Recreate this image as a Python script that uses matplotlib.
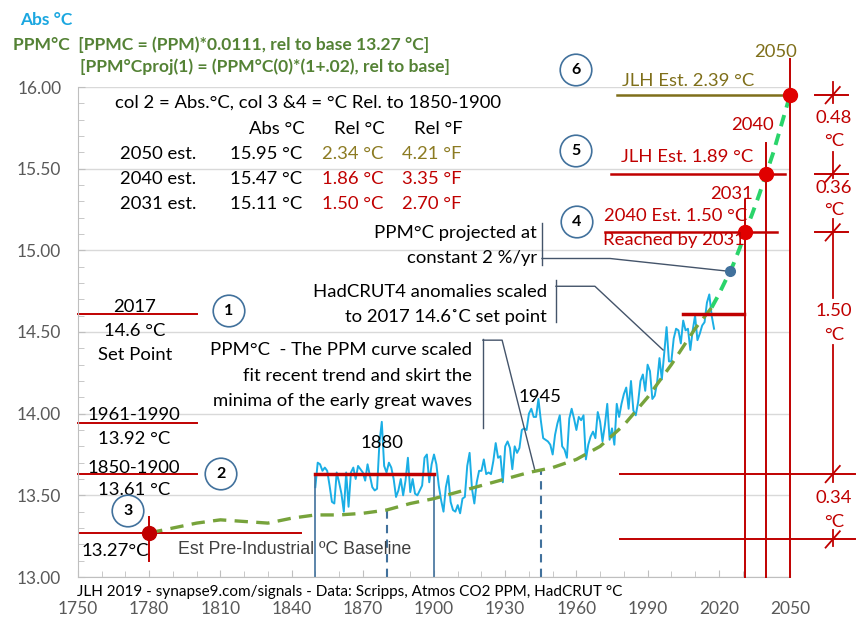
import numpy as np
import matplotlib.pyplot as plt

# PPM based curve (abs deg C)
ppm_years = [1780, 1790, 1800, 1810, 1820, 1830, 1840, 1850, 1860, 1870, 1880, 1890,
             1900, 1910, 1920, 1930, 1940, 1950, 1960, 1970, 1980, 1990, 2000, 2010, 2017]
ppm_temp = [13.27, 13.30, 13.33, 13.35, 13.34, 13.33, 13.36, 13.38, 13.38, 13.39, 13.41, 13.45,
            13.48, 13.52, 13.56, 13.60, 13.64, 13.67, 13.72, 13.80, 13.93, 14.10, 14.30, 14.52, 14.65]

# projected at 2 %/yr
proj_years = [2017, 2020, 2023, 2026, 2029, 2031, 2034, 2037, 2040, 2043, 2046, 2050]
proj_temp = [14.65, 14.73, 14.82, 14.91, 15.02, 15.11, 15.22, 15.34, 15.47, 15.60, 15.75, 15.95]

# HadCRUT4 annual, scaled to 2017 = 14.6
had_years = list(range(1850, 2019))
had_temp = [
    13.55, 13.70, 13.69, 13.65, 13.67, 13.65, 13.56, 13.46, 13.45, 13.64,
    13.58, 13.51, 13.40, 13.64, 13.43, 13.64, 13.67, 13.60, 13.68, 13.66,
    13.64, 13.59, 13.69, 13.62, 13.55, 13.53, 13.54, 13.82, 13.95, 13.68,
    13.64, 13.70, 13.67, 13.60, 13.49, 13.53, 13.60, 13.50, 13.59, 13.73,
    13.52, 13.60, 13.51, 13.50, 13.53, 13.56, 13.73, 13.75, 13.58, 13.69,
    13.75, 13.69, 13.56, 13.47, 13.40, 13.55, 13.62, 13.46, 13.41, 13.40,
    13.44, 13.39, 13.48, 13.49, 13.68, 13.76, 13.54, 13.45, 13.58, 13.65,
    13.65, 13.72, 13.63, 13.64, 13.63, 13.71, 13.82, 13.73, 13.74, 13.58,
    13.80, 13.83, 13.79, 13.66, 13.80, 13.76, 13.79, 13.90, 13.91, 13.90,
    14.00, 14.03, 13.98, 13.98, 14.09, 13.96, 13.85, 13.84, 13.83, 13.81,
    13.75, 13.87, 13.94, 13.99, 13.80, 13.78, 13.73, 13.97, 14.03, 13.97,
    13.90, 13.98, 13.96, 13.99, 13.72, 13.81, 13.86, 13.89, 13.85, 14.01,
    13.95, 13.83, 13.93, 14.06, 13.84, 13.91, 13.81, 14.06, 13.98, 14.06,
    14.12, 14.16, 14.03, 14.20, 14.02, 13.99, 14.07, 14.20, 14.24, 14.14,
    14.30, 14.26, 14.09, 14.11, 14.19, 14.34, 14.21, 14.37, 14.53, 14.32,
    14.32, 14.46, 14.52, 14.51, 14.43, 14.57, 14.51, 14.52, 14.39, 14.51,
    14.60, 14.45, 14.49, 14.54, 14.56, 14.68, 14.73, 14.60, 14.52]

# estimates
est_years = [2031, 2040, 2050]
est_temp = [15.11, 15.47, 15.95]

# reference levels
set_2017 = 14.61
base_6190 = 13.94
base_1850 = 13.63
base_pre = 13.27

RED = '#C00000'
OLIVE = '#7F6F1A'
GREY = '#44546A'
BLUE = '#1AAEE5'
FONT = 'Lato'
FS = 13.3

plt.rcParams['font.family'] = [FONT, 'DejaVu Sans']

fig = plt.figure(figsize=(8.58, 6.22), dpi=100)
ax = fig.add_axes([78/858, 1-577/622, (790-78)/858, (577-87)/622])
ax.set_xlim(1750, 2050)
ax.set_ylim(13, 16)


def ft(x, y, s, **kw):
    # text placed by pixel position on the figure
    kw.setdefault('fontsize', FS)
    kw.setdefault('va', 'center')
    fig.text(x/858, 1-y/622, s, **kw)


def circ(x, y, s):
    ft(x, y, s, ha='center', fontweight='bold', fontsize=11.5,
       bbox=dict(boxstyle='circle,pad=0.55', fc='white', ec='#41719C', lw=1.2))


# grid and axes
ax.set_yticks(np.arange(13, 16.01, 0.5))
ax.set_yticks(np.arange(13, 16.01, 0.1), minor=True)
ax.set_xticks(np.arange(1750, 2051, 30))
ax.set_xticks(np.arange(1750, 2051, 10), minor=True)
ax.yaxis.set_major_formatter(plt.FormatStrFormatter('%.2f'))
ax.grid(axis='y', color='#D9D9D9', lw=1)
ax.set_axisbelow(True)
for s in ['top', 'right']:
    ax.spines[s].set_visible(False)
ax.spines['left'].set_color('#BFBFBF')
ax.spines['bottom'].set_color('#BFBFBF')
ax.tick_params(which='both', direction='in', color='#BFBFBF', labelcolor='#595959',
               labelsize=12.5)
ax.tick_params(which='major', length=5)
ax.tick_params(which='minor', length=4)
ax.tick_params(axis='x', pad=17)
ax.tick_params(axis='y', pad=12)

# main curves
ax.plot(ppm_years, ppm_temp, color='#77A33B', lw=2.4, ls=(0, (4, 2.5)), zorder=3)
ax.plot(proj_years, proj_temp, color='#2AD46A', lw=2.8, ls=(0, (3, 2)), zorder=3)
ax.plot(had_years, had_temp, color=BLUE, lw=1.4, zorder=2)

# 1850-1900 box and markers
ax.plot([1850, 1900], [base_1850, base_1850], color=RED, lw=2.5, zorder=4)
ax.plot([1850, 1850], [13, base_1850], color='#41719C', lw=1.2)
ax.plot([1900, 1900], [13, base_1850], color='#41719C', lw=1.2)
for yr in [1880, 1945]:
    ax.plot([yr, yr], [13, np.interp(yr, ppm_years, ppm_temp)], color='#41719C',
            lw=1.5, ls=(0, (4, 3)), zorder=1)

# left reference lines
for lv in [set_2017, base_6190, base_1850]:
    ax.plot([1750, 1800], [lv, lv], color=RED, lw=1.4, clip_on=False)
ax.plot([1750, 1844], [base_pre, base_pre], color=RED, lw=1.4)
ax.plot([1780, 1780], [13.10, 13.37], color=RED, lw=1.4)
ax.plot([1780], [base_pre], 'o', color=RED, ms=10, zorder=5)

# 2017 set point
ax.plot([2005, 2030.6], [set_2017, set_2017], color=RED, lw=2.5, zorder=4)

# estimate lines and dots
tops = [15.31, 15.66, 16.17]
starts = [1972, 1974.6, 1977]
ends = [2044.5, 2048, 2050]
cols = [RED, RED, OLIVE]
for yr, t, top, x0, x1, c in zip(est_years, est_temp, tops, starts, ends, cols):
    ax.plot([yr, yr], [13, top], color=RED, lw=1.4, clip_on=False, zorder=3)
    ax.plot([x0, x1], [t, t], color=c, lw=1.8, zorder=3)
    ax.plot([yr], [t], 'o', color='#E00000', ms=10, clip_on=False, zorder=6)

# right-hand dimension marks
for t in est_temp:
    ax.plot([2060.5, 2074.4], [t, t], color=RED, lw=1.4, clip_on=False)
for lv in [base_1850, 13.23]:
    ax.plot([1978.4, 2077.4], [lv, lv], color=RED, lw=1.4, clip_on=False)
for lv in est_temp + [base_1850, 13.23]:
    ax.plot([2065, 2071], [lv - 0.05, lv + 0.05], color=RED, lw=1.3, clip_on=False)
for a, b in [(16.03, 15.90), (15.60, 15.44), (15.19, 14.71), (14.42, 13.58), (13.29, 13.19)]:
    ax.plot([2068.1, 2068.1], [a, b], color=RED, lw=1.3, clip_on=False)

# callouts
xd = 2024.7
yd = np.interp(xd, proj_years, proj_temp)
ax.plot([1945.5, 1945.5], [15.17, 14.91], color=GREY, lw=1)
ax.plot([1945.5, 1974.2, xd], [14.95, 14.95, yd], color=GREY, lw=1)
ax.plot([xd], [yd], 'o', color='#41719C', ms=7, zorder=6)

ax.plot([1951.4, 1951.4], [14.82, 14.56], color=GREY, lw=1)
ax.plot([1951.4, 1967.8, 1996.5], [14.78, 14.78, 14.39], color=GREY, lw=1)

xp = 1942.6
ax.plot([1920.6, 1920.6], [14.46, 13.91], color=GREY, lw=1)
ax.plot([1920.6, 1928.7, xp], [14.45, 14.45, np.interp(xp, ppm_years, ppm_temp)],
        color=GREY, lw=1)

# header
ft(20, 20, 'Abs °C', color='#1BA7E0', fontweight='bold', fontsize=12.5)
ft(13, 45, 'PPM°C  [PPMC = (PPM)*0.0111, rel to base 13.27 °C]', color='#548235',
   fontweight='bold', fontsize=12.6)
ft(80, 67, '[PPM°Cproj(1) = (PPM°C(0)*(1+.02), rel to base]', color='#548235',
   fontweight='bold', fontsize=12.6)

# table
ft(115, 103, 'col 2 = Abs.°C, col 3 &4 = °C Rel. to 1850-1900')
ft(305, 129, 'Abs °C', ha='right')
ft(385, 129, 'Rel °C', ha='right')
ft(463, 129, 'Rel °F', ha='right')
rows = [('2050 est.', '15.95 °C', '2.34 °C', '4.21 °F', '#8C7B22'),
        ('2040 est.', '15.47 °C', '1.86 °C', '3.35 °F', RED),
        ('2031 est.', '15.11 °C', '1.50 °C', '2.70 °F', RED)]
for (a, b, c, d, col), y in zip(rows, [154, 179, 204]):
    ft(120, y, a)
    ft(302, y, b, ha='right')
    ft(383, y, c, ha='right', color=col)
    ft(462, y, d, ha='right', color=col)

# left labels
ft(135, 307, '2017', ha='center')
ft(135, 331, '14.6 °C', ha='center')
ft(135, 355, 'Set Point', ha='center')
ft(134, 415, '1961-1990', ha='center')
ft(134, 439, '13.92 °C', ha='center')
ft(134, 468, '1850-1900', ha='center')
ft(134, 490, '13.61 °C', ha='center')
ft(82, 551, '13.27°C')
ft(178, 549, 'Est Pre-Industrial ºC Baseline', family='Liberation Sans', fontsize=12.8,
   color='#404040')

# middle notes
ft(382, 443, '1880', ha='center')
ft(540, 397, '1945', ha='center')
ft(472, 350, 'PPM°C  - The PPM curve scaled', ha='right')
ft(472, 376, 'fit recent trend and skirt the', ha='right')
ft(472, 401, 'minima of the early great waves', ha='right')
ft(547, 292, 'HadCRUT4 anomalies scaled', ha='right')
ft(547, 317, 'to 2017 14.6˚C set point', ha='right')
ft(537, 233, 'PPM°C projected at', ha='right')
ft(537, 258, 'constant 2 %/yr', ha='right')

# right labels
ft(776, 52, '2050', ha='center', color=OLIVE)
ft(752, 125, '2040', ha='center', color=RED)
ft(732, 194, '2031', ha='center', color=RED)
ft(622, 81, 'JLH Est. 2.39 °C', color=OLIVE)
ft(621, 157, 'JLH Est. 1.89 °C', color=RED)
ft(604, 216, '2040 Est. 1.50 °C', color=RED)
ft(603, 240, 'Reached by 2031', color=RED)
for (lab, y) in [('0.48', 118), ('°C', 141), ('0.36', 188), ('°C', 210),
                 ('1.50', 311), ('°C', 335), ('0.34', 498), ('°C', 522)]:
    ft(834, y, lab, ha='center', color=RED)

# circled numbers
circ(576, 70, '6')
circ(576, 151, '5')
circ(577, 222, '4')
circ(229, 311, '1')
circ(221, 474, '2')
circ(128, 511, '3')

ft(77, 592, 'JLH 2019 - synapse9.com/signals - Data: Scripps, Atmos CO2 PPM, HadCRUT °C',
   fontsize=11)

fig.savefig('out.png', dpi=100)
